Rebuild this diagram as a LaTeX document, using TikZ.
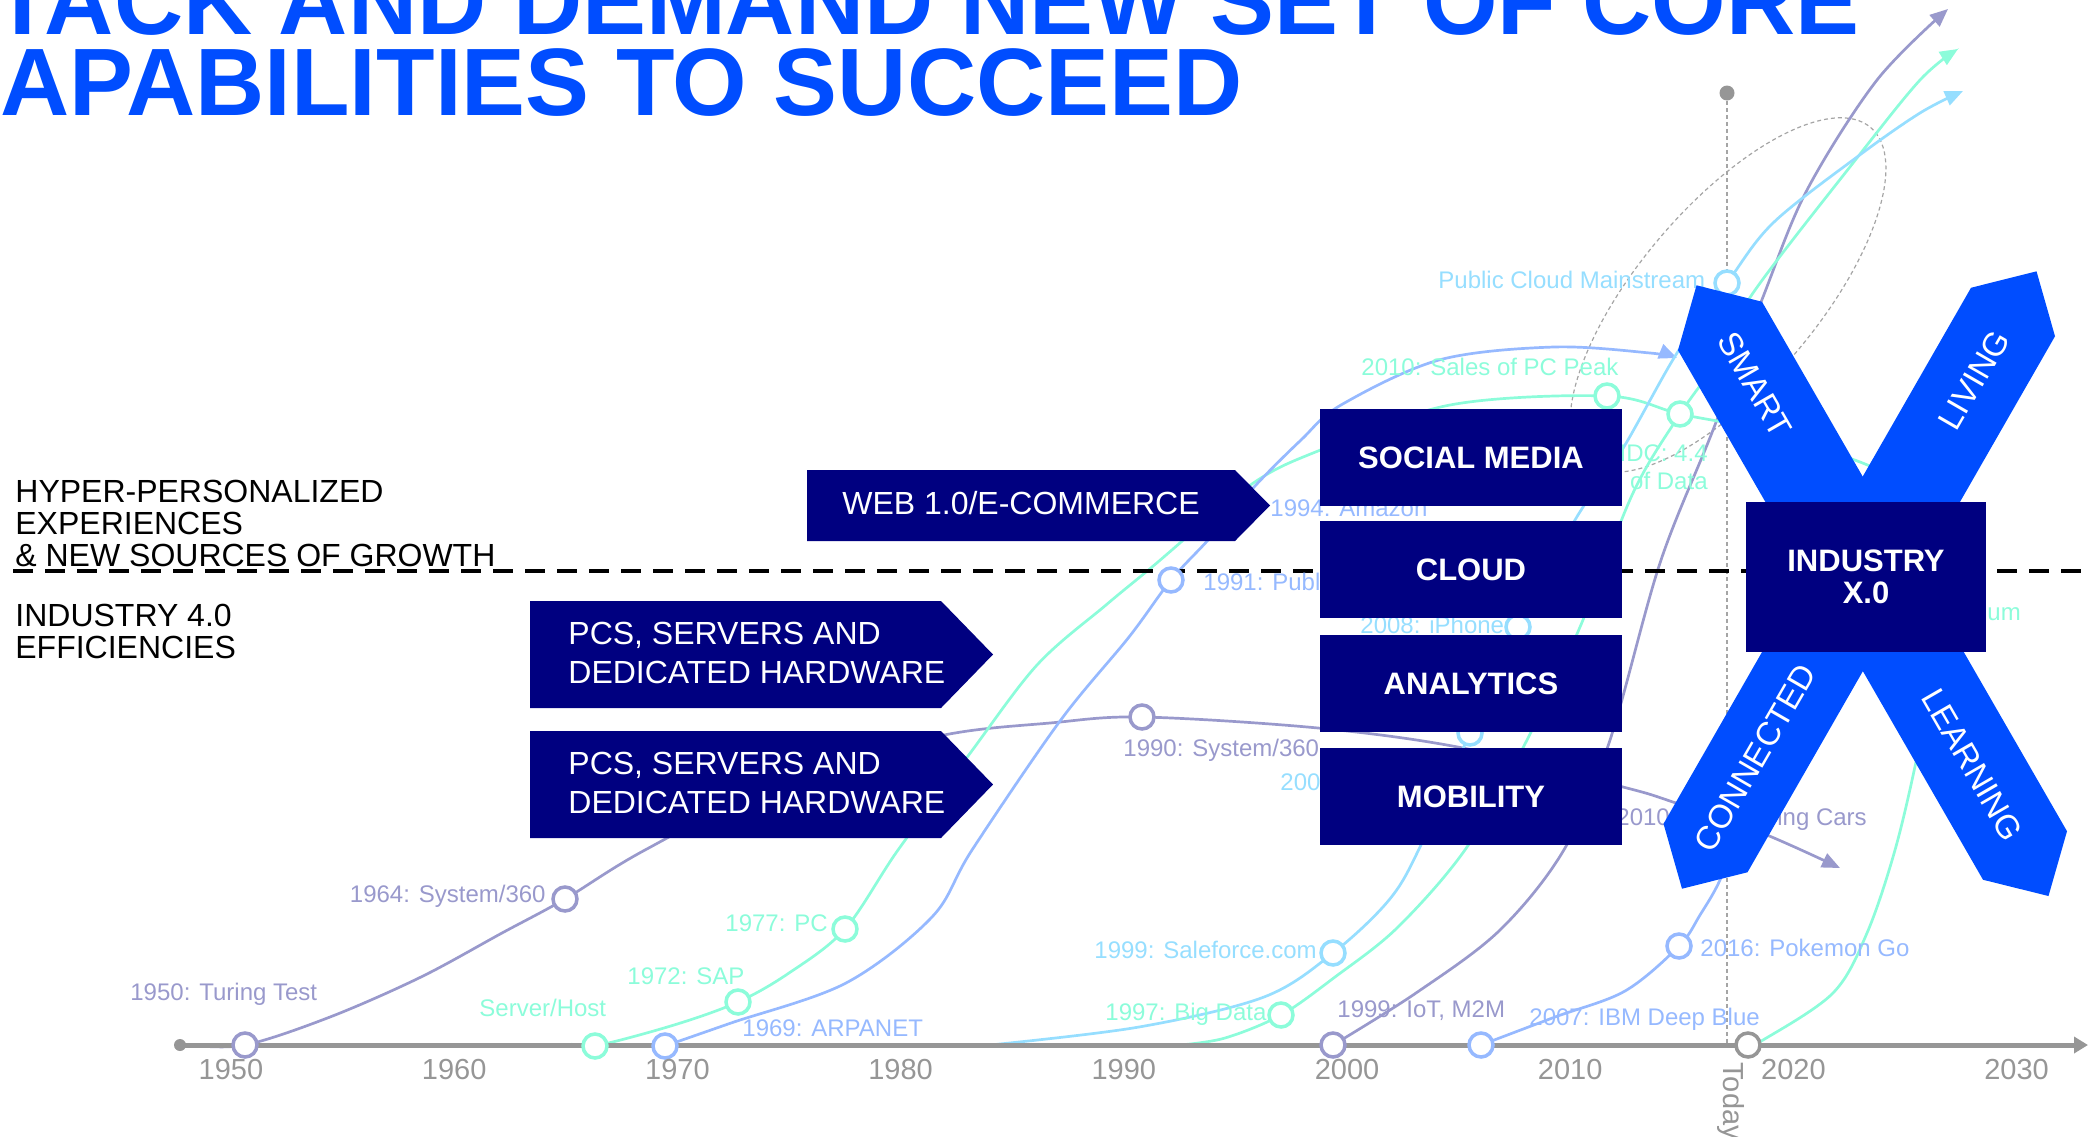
\documentclass[tikz,border=0pt]{standalone}
\usepackage{fontspec}
\setmainfont{Liberation Sans}
\usetikzlibrary{arrows.meta}
\definecolor{navy}{RGB}{0,0,128}
\definecolor{xblue}{RGB}{0,77,255}
\definecolor{cpur}{RGB}{153,153,204}
\definecolor{cblu}{RGB}{150,185,255}
\definecolor{ccya}{RGB}{150,222,255}
\definecolor{cmin}{RGB}{140,252,218}
\definecolor{gtick}{RGB}{150,150,150}
\definecolor{gline}{RGB}{165,165,165}
\tikzset{
  curve/.style={line width=1.35pt},
  tipped/.style={-{Triangle[length=9pt,width=7.5pt]}},
  ring/.style={circle, draw=#1, fill=white, line width=1.75pt, minimum size=12pt, inner sep=0pt},
  lbl/.style={text=#1, font=\fontsize{12}{13}\selectfont, inner sep=0pt},
  ticklbl/.style={text=gtick, font=\fontsize{14.5}{15}\selectfont, inner sep=0pt, anchor=base},
  boxlbl/.style={fill=navy, text=white, font=\bfseries\fontsize{15.5}{16}\selectfont, align=center, inner sep=0pt, minimum width=151pt, minimum height=48.5pt},
  chevlbl/.style={text=white, font=\fontsize{16}{19.5}\selectfont, align=left, inner sep=0pt},
  bandlbl/.style={text=white, font=\fontsize{16.5}{17}\selectfont, inner sep=0pt},
  sidelbl/.style={text=black, font=\fontsize{16}{16}\selectfont, align=left, inner sep=0pt, anchor=west},
  titlelbl/.style={text=xblue, font=\bfseries\fontsize{47.9}{48}\selectfont, inner sep=0pt, anchor=base west},
}
\begin{document}
\begin{tikzpicture}[x=0.5pt,y=-0.5pt]
\useasboundingbox (0,0) rectangle (2088,1136);
\clip (0,0) rectangle (2088,1136);

% marker positions
\coordinate (m50) at (245,1045);
\coordinate (m64) at (565,899);
\coordinate (m90) at (1142,717);
\coordinate (mIoT) at (1333,1045);
\coordinate (mSH) at (595,1046);
\coordinate (mSAP) at (738,1002);
\coordinate (mPC) at (845,929);
\coordinate (mPeak) at (1607,396);
\coordinate (mIDC) at (1680,414);
\coordinate (mBD) at (1281,1015);
\coordinate (mARPA) at (665,1046);
\coordinate (mPub) at (1171,580);
\coordinate (mDB) at (1481,1045);
\coordinate (mPG) at (1679,946);
\coordinate (mPCM) at (1727,283);
\coordinate (mIP) at (1518,627);
\coordinate (m200) at (1470,733);
\coordinate (mSF) at (1333,953);
\coordinate (mToday) at (1748,1045);
\coordinate (axL) at (180,1045);
\coordinate (axR) at (2088,1045);
\coordinate (tbot) at (1727,1045);
\coordinate (dL) at (13,571);
\coordinate (dR) at (2088,571);

% today line and ellipse
\node[circle, fill=gtick, minimum size=7.5pt, inner sep=0pt] (tdot) at (1727,93) {};
\draw[gline, line width=0.7pt, dash pattern=on 2pt off 1.5pt] (tdot) -- (tbot);
\draw[gline, line width=0.6pt, dash pattern=on 2pt off 1.5pt, rotate around={49.6:(1728,295)}] (1728,295) ellipse[x radius=220, y radius=89];

% curves
\draw[curve, cpur, tipped] plot[smooth, tension=0.55] coordinates {(190,1045) (m50) (330,1017) (421,977) (502,933) (m64) (645,850) (800,772) (944,735) (1050,723) (m90) (1318,728) (1463,748) (1623,787) (1673,802) (1762,833) (1840,868)};
\draw[curve, cpur, tipped] plot[smooth, tension=0.55] coordinates {(mIoT) (1416,993) (1500,930) (1565,848) (1610,740) (1660,563) (1713,430) (1763,297) (1807,190) (1877,80) (1948,9)};
\draw[curve, cmin] plot[smooth, tension=0.55] coordinates {(571,1044) (mSH) (674,1025) (mSAP) (789,973) (mPC) (898,850) (968,756) (1037,665) (1106,605) (1152,567) (1249,486) (1318,451) (1450,405) (mPeak) (mIDC) (1760,430) (1860,462) (1930,495)};
\draw[curve, cmin, tipped] plot[smooth, tension=0.55] coordinates {(1180,1045) (1225,1038) (mBD) (1335,977) (1398,927) (1467,847) (1527,740) (1580,627) (1633,493) (mIDC) (1720,357) (1753,293) (1853,163) (1920,80) (1958,49)};
\draw[curve, cmin] plot[smooth, tension=0.55] coordinates {(mToday) (1763,1040) (1833,993) (1867,933) (1895,850) (1917,757) (1935,660)};
\draw[curve, cblu, tipped] plot[smooth, tension=0.55] coordinates {(mARPA) (731,1023) (846,983) (932,917) (972,850) (1060,721) (1129,637) (mPub) (1209,539) (1255,486) (1301,440) (1341,405) (1439,360) (1554,347) (1650,353) (1677,358)};
\draw[curve, cblu] plot[smooth, tension=0.55] coordinates {(mDB) (1555,1017) (1625,991) (mPG) (1700,915) (1720,880) (1738,830)};
\draw[curve, ccya, tipped] plot[smooth, tension=0.55] coordinates {(990,1045) (1139,1027) (1264,997) (mSF) (1389,900) (1420,847) (m200) (mIP) (1575,520) (1622,450) (1677,353) (mPCM) (1773,223) (1857,157) (1920,113) (1963,91)};

% dashed separator
\draw[black, line width=1.75pt, dash pattern=on 10pt off 6pt] (dL) -- (dR);

% axis
\draw[gtick, line width=2.5pt, -{Triangle[length=7pt,width=8pt]}] (axL) -- (axR);
\fill[gtick] (axL) circle[radius=6];

% markers
\node[ring=cpur] (n50) at (m50) {};
\node[ring=cpur] (n64) at (m64) {};
\node[ring=cpur] (n90) at (m90) {};
\node[ring=cpur] (nIoT) at (mIoT) {};
\node[ring=cmin] (nSH) at (mSH) {};
\node[ring=cmin] (nSAP) at (mSAP) {};
\node[ring=cmin] (nPC) at (mPC) {};
\node[ring=cmin] (nPeak) at (mPeak) {};
\node[ring=cmin] (nIDC) at (mIDC) {};
\node[ring=cmin] (nBD) at (mBD) {};
\node[ring=cblu] (nARPA) at (mARPA) {};
\node[ring=cblu] (nPub) at (mPub) {};
\node[ring=cblu] (nDB) at (mDB) {};
\node[ring=cblu] (nPG) at (mPG) {};
\node[ring=ccya] (nPCM) at (mPCM) {};
\node[ring=ccya] (nIP) at (mIP) {};
\node[ring=ccya] (n200) at (m200) {};
\node[ring=ccya] (nSF) at (mSF) {};
\node[ring=gtick] (nToday) at (mToday) {};

% curve labels
\node[lbl=cpur, anchor=base west] (l50) at (130,1000) {1950: Turing Test};
\node[lbl=cpur, anchor=base east] (l64) at (546,902) {1964: System/360};
\node[lbl=cmin, anchor=base west] (lSH) at (479,1016) {Server/Host};
\node[lbl=cmin, anchor=base west] (lSAP) at (627,984) {1972: SAP};
\node[lbl=cmin, anchor=base west] (lPC) at (725,931) {1977: PC};
\node[lbl=cblu, anchor=base west] (lARPA) at (742,1036) {1969: ARPANET};
\node[lbl=cpur, anchor=base west] (l90) at (1123,756) {1990: System/360};
\node[lbl=cblu, anchor=base west] (lPub) at (1203,590) {1991: Public};
\node[lbl=cblu, anchor=base west] (lAmz) at (1270,516) {1994: Amazon};
\node[lbl=cmin, anchor=base west] (lPeak) at (1361,375) {2010: Sales of PC Peak};
\node[lbl=ccya, anchor=base west] (lPCM) at (1438,288) {Public Cloud Mainstream};
\node[lbl=cmin, anchor=base east] (lIDC1) at (1708,461) {IDC: 4.4};
\node[lbl=cmin, anchor=base east] (lIDC2) at (1708,489) {of Data};
\node[lbl=ccya, anchor=base west] (lIP) at (1360,633) {2008: iPhone};
\node[lbl=ccya, anchor=base west] (l200) at (1280,790) {200};
\node[lbl=cmin, anchor=base west] (lum) at (1987,620) {um};
\node[lbl=cpur, anchor=base west] (lSDC) at (1616,825) {2010: Self-Driving Cars};
\node[lbl=ccya, anchor=base west] (lSF) at (1094,958) {1999: Saleforce.com};
\node[lbl=cmin, anchor=base west] (lBD) at (1105,1020) {1997: Big Data};
\node[lbl=cpur, anchor=base west] (lIoT) at (1337,1017) {1999: IoT, M2M};
\node[lbl=cblu, anchor=base west] (lDB) at (1529,1025) {2007: IBM Deep Blue};
\node[lbl=cblu, anchor=base west] (lPG) at (1700,956) {2016: Pokemon Go};

% ticks
\foreach \yr [count=\i from 0] in {1950,1960,...,2030}
  \node[ticklbl] (t\yr) at ({231+223.2*\i},1079) {\yr};
\node[text=gtick, font=\fontsize{14.5}{15}\selectfont, rotate=-90, anchor=west, inner sep=0pt] (today) at (1731,1062) {Today};

% side texts
\node[sidelbl] (hyper) at (15,523) {HYPER-PERSONALIZED\\EXPERIENCES\\\& NEW SOURCES OF GROWTH};
\node[sidelbl] (ind40) at (15,631) {INDUSTRY 4.0\\EFFICIENCIES};

% chevron boxes
\fill[navy] (807,470) -- (1235,470) -- (1270,505.5) -- (1235,541) -- (807,541) -- cycle;
\node[chevlbl] (web) at (1021,503) {WEB 1.0/E-COMMERCE};
\fill[navy] (530,601) -- (941,601) -- (993,654.5) -- (941,708) -- (530,708) -- cycle;
\node[chevlbl, anchor=west] (pcs1) at (568,653) {PCS, SERVERS AND\\DEDICATED HARDWARE};
\fill[navy] (530,731) -- (941,731) -- (993,784.5) -- (941,838) -- (530,838) -- cycle;
\node[chevlbl, anchor=west] (pcs2) at (568,783) {PCS, SERVERS AND\\DEDICATED HARDWARE};

% capability boxes
\node[boxlbl] (social) at (1471,457.5) {SOCIAL MEDIA};
\node[boxlbl] (cloud) at (1471,569.5) {CLOUD};
\node[boxlbl] (analytics) at (1471,683.5) {ANALYTICS};
\node[boxlbl] (mobility) at (1471,796.5) {MOBILITY};

% X bands
\fill[xblue] (1696.5,285.3) -- (1762,301.75) -- (2067,831.25) -- (2048.5,896) -- (1983,879.75) -- (1678,350.25) -- cycle;
\fill[xblue] (2036.5,271.3) -- (2055,336.25) -- (1747.5,872.25) -- (1682,888.7) -- (1663.5,823.75) -- (1971,287.75) -- cycle;
\node[bandlbl, rotate=-60] (smart) at (1755,385) {SMART};
\node[bandlbl, rotate=60] (living) at (1974,380) {LIVING};
\node[bandlbl, rotate=60] (connected) at (1755,758) {CONNECTED};
\node[bandlbl, rotate=-60] (learning) at (1972,765) {LEARNING};
\node[boxlbl, minimum width=120pt, minimum height=75pt] (industry) at (1866,577) {INDUSTRY\\X.0};

% title
\node[titlelbl] (title1) at (-7,34) {TACK AND DEMAND NEW SET OF CORE};
\node[titlelbl] (title2) at (0,115) {APABILITIES TO SUCCEED};
\end{tikzpicture}
\end{document}
